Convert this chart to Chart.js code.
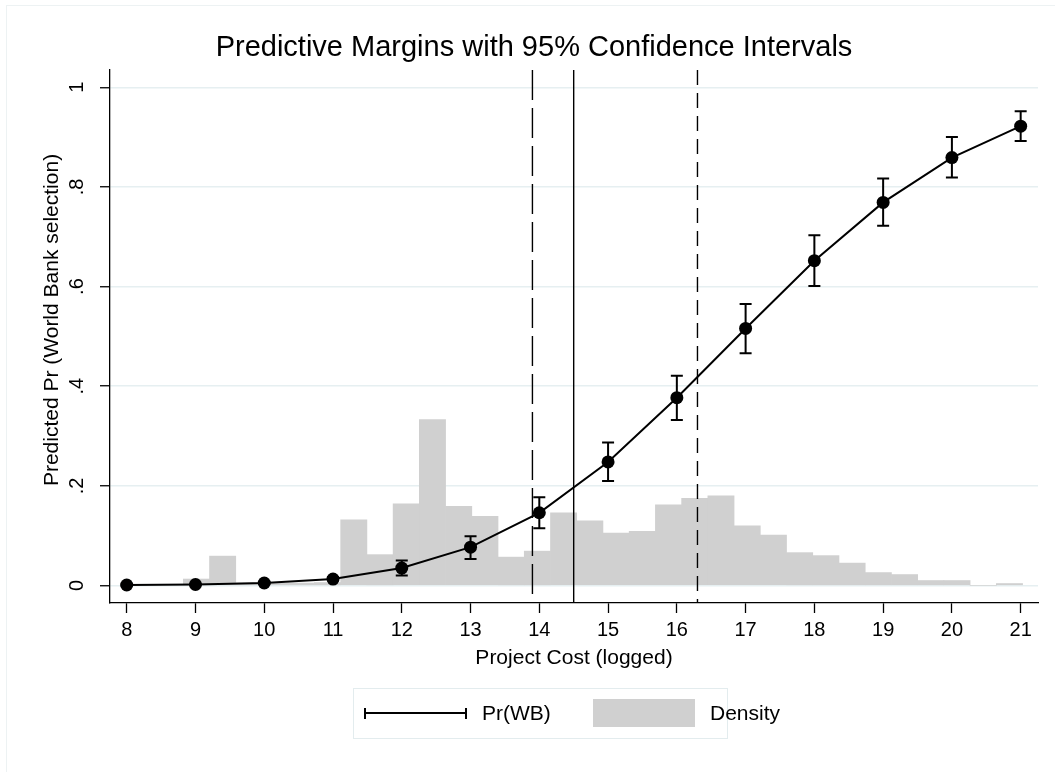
<!DOCTYPE html>
<html>
<head>
<meta charset="utf-8">
<script src="https://cdn.jsdelivr.net/npm/chart.js@4.4.0/dist/chart.umd.min.js"></script>
<style>
  body { margin: 0; background: #fff; overflow: hidden; }
  #wrap { position: relative; width: 1055px; height: 772px; font-family: 'Liberation Sans', Arial, sans-serif; }
  #frame { position: absolute; left: 6px; top: 5px; width: 1100px; height: 800px;
           border-left: 1px solid #edf2f3; border-top: 1px solid #edf2f3; }
  #legend { position: absolute; left: 353px; top: 688px; width: 375px; height: 51px;
            box-sizing: border-box; border: 1px solid #e3ecee; }
  .leg { position: absolute; }
  .txt { font-size: 21px; line-height: 24px; color: #000; white-space: nowrap; }
</style>
</head>
<body>
<div id="wrap">
  <div id="frame"></div>
  <canvas id="chart" width="1055" height="772"></canvas>
  <div id="legend"></div>
  <div class="leg" style="left:364px; top:712px; width:103px; height:2px; background:#000;"></div>
  <div class="leg" style="left:364px; top:708px; width:2px; height:11px; background:#000;"></div>
  <div class="leg" style="left:465px; top:708px; width:2px; height:11px; background:#000;"></div>
  <span class="leg txt" style="left:482px; top:701px;">Pr(WB)</span>
  <div class="leg" style="left:593px; top:699px; width:102px; height:28px; background:#d0d0d0;"></div>
  <span class="leg txt" style="left:710px; top:701px;">Density</span>
</div>
<script>
// predicted probability at each logged cost value
const xValues = [8, 9, 10, 11, 12, 13, 14, 15, 16, 17, 18, 19, 20, 21];
const prWB   = [0.001, 0.002, 0.005, 0.013, 0.035, 0.077, 0.146, 0.248, 0.377, 0.516, 0.652, 0.769, 0.859, 0.922];
const ciLow  = [0.000, 0.001, 0.003, 0.010, 0.020, 0.053, 0.115, 0.210, 0.332, 0.466, 0.601, 0.722, 0.819, 0.892];
const ciHigh = [0.002, 0.003, 0.007, 0.017, 0.050, 0.099, 0.177, 0.287, 0.421, 0.565, 0.703, 0.817, 0.900, 0.952];

// histogram of project cost
const binStart = 8.823;
const binWidth = 0.3814;
const density = [0.013, 0.059, 0.005, 0.005, 0.005, 0.006, 0.132, 0.062, 0.164, 0.333, 0.159,
                 0.139, 0.057, 0.069, 0.146, 0.130, 0.105, 0.109, 0.162, 0.175, 0.180, 0.120,
                 0.101, 0.066, 0.060, 0.045, 0.026, 0.022, 0.010, 0.010, 0.000, 0.004];

// vertical reference lines
const refLines = [13.9, 14.5, 16.3];
const refDash = [[30, 8], [], [15, 8]];

const xTicks = [8, 9, 10, 11, 12, 13, 14, 15, 16, 17, 18, 19, 20, 21];
const yTicks = [0, 0.2, 0.4, 0.6, 0.8, 1];
const yTickLabels = ['0', '.2', '.4', '.6', '.8', '1'];

Chart.defaults.font.family = "'Liberation Sans', Arial, sans-serif";
Chart.defaults.color = '#000';

const overlay = {
    id: 'overlay',
    afterDatasetDraw(chart, args) {
        if (args.index !== 0) return;
        const ctx = chart.ctx;
        const xs = chart.scales.x, ys = chart.scales.y, area = chart.chartArea;
        ctx.save();
        ctx.strokeStyle = '#000';
        // reference lines
        ctx.lineWidth = 1.4;
        refLines.forEach((v, i) => {
            const px = xs.getPixelForValue(v);
            ctx.setLineDash(refDash[i]);
            ctx.beginPath();
            ctx.moveTo(px, area.top);
            ctx.lineTo(px, area.bottom);
            ctx.stroke();
        });
        ctx.setLineDash([]);
        // confidence interval caps
        ctx.lineWidth = 2;
        xValues.forEach((v, i) => {
            const px = xs.getPixelForValue(v);
            const lo = ys.getPixelForValue(ciLow[i]);
            const hi = ys.getPixelForValue(ciHigh[i]);
            ctx.beginPath();
            ctx.moveTo(px, lo); ctx.lineTo(px, hi);
            ctx.moveTo(px - 6, lo); ctx.lineTo(px + 6, lo);
            ctx.moveTo(px - 6, hi); ctx.lineTo(px + 6, hi);
            ctx.stroke();
        });
        ctx.restore();
    },
    afterDraw(chart) {
        const ctx = chart.ctx, ys = chart.scales.y;
        ctx.save();
        ctx.fillStyle = '#000';
        ctx.textAlign = 'center';
        ctx.textBaseline = 'alphabetic';
        ctx.font = "20px 'Liberation Sans', Arial, sans-serif";
        yTicks.forEach((v, i) => {
            ctx.save();
            ctx.translate(83, ys.getPixelForValue(v));
            ctx.rotate(-Math.PI / 2);
            ctx.fillText(yTickLabels[i], 0, 0);
            ctx.restore();
        });
        ctx.font = "21px 'Liberation Sans', Arial, sans-serif";
        ctx.translate(58, 320);
        ctx.rotate(-Math.PI / 2);
        ctx.fillText('Predicted Pr (World Bank selection)', 0, 0);
        ctx.restore();
    }
};

new Chart(document.getElementById('chart'), {
    type: 'bar',
    data: {
        datasets: [
            {
                type: 'bar',
                label: 'Density',
                data: density.map((d, i) => ({ x: binStart + (i + 0.5) * binWidth, y: d })),
                backgroundColor: '#d0d0d0',
                borderWidth: 0,
                barPercentage: 1,
                categoryPercentage: 1,
                order: 2
            },
            {
                type: 'line',
                label: 'Pr(WB)',
                data: xValues.map((x, i) => ({ x: x, y: prWB[i] })),
                borderColor: '#000',
                borderWidth: 2,
                tension: 0,
                pointRadius: 6.5,
                pointBackgroundColor: '#000',
                pointBorderWidth: 0,
                order: 1
            }
        ]
    },
    options: {
        responsive: false,
        animation: false,
        devicePixelRatio: 1,
        layout: { padding: { left: 30, right: 17, top: 0, bottom: 69 } },
        plugins: {
            legend: { display: false },
            tooltip: { enabled: false },
            title: {
                display: true,
                text: 'Predictive Margins with 95% Confidence Intervals',
                font: { size: 29, weight: 'normal' },
                color: '#000',
                padding: { top: 31, bottom: 4.2 }
            }
        },
        scales: {
            x: {
                type: 'linear',
                min: 7.757,
                max: 21.252,
                offset: false,
                afterBuildTicks: s => { s.ticks = xTicks.map(v => ({ value: v })); },
                afterFit: s => { s.height = 100; },
                ticks: { font: { size: 20 }, color: '#000', padding: 5, maxRotation: 0, autoSkip: false },
                grid: { offset: false, drawOnChartArea: false, drawTicks: true, tickLength: 10, tickColor: '#000', tickWidth: 1.3 },
                border: { color: '#000', width: 1.3 },
                title: {
                    display: true,
                    text: 'Project Cost (logged)',
                    font: { size: 21 },
                    color: '#000',
                    padding: { top: 0, bottom: 32 }
                }
            },
            y: {
                type: 'linear',
                min: -0.0351,
                max: 1.0347,
                afterBuildTicks: s => { s.ticks = yTicks.map(v => ({ value: v })); },
                afterFit: s => { s.width = 80; },
                ticks: { display: false },
                grid: { color: '#e6eff1', lineWidth: 1.5, drawTicks: true, tickLength: 10, tickColor: '#000', tickWidth: 1.3 },
                border: { color: '#000', width: 1.3 }
            }
        }
    },
    plugins: [overlay]
});
</script>
</body>
</html>
